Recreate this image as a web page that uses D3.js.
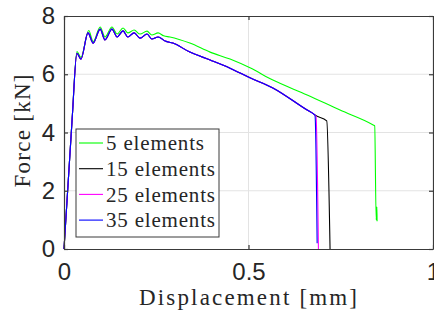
<!DOCTYPE html>
<html>
<head>
<meta charset="utf-8">
<script src="https://cdn.jsdelivr.net/npm/d3@7"></script>
<style>
  body { margin: 0; background: white; }
  .serif { font-family: "Liberation Serif", "Times New Roman", serif; }
  .sans { font-family: "Liberation Sans", Arial, sans-serif; }
</style>
</head>
<body>
<div id="canvas"></div>
<script>
// Data (displacement in mm, force in kN)
var xTicks = [0, 0.5, 1];
var yTicks = [0, 2, 4, 6, 8];
var seriesNames = ["5 elements", "15 elements", "25 elements", "35 elements"];
var seriesColors = ["#00ff00", "#000000", "#ff00ff", "#0000ff"];

// shared part of the 15 / 25 / 35 element curves
var commonDisp = [0, 0.022, 0.035, 0.046, 0.065, 0.079, 0.098, 0.111, 0.130, 0.144, 0.160, 0.173, 0.190, 0.206, 0.225, 0.238, 0.255, 0.274, 0.295, 0.341, 0.396, 0.45, 0.504, 0.566, 0.659, 0.676, 0.68];
var commonForce = [0, 4.45, 6.72, 6.52, 7.42, 7.07, 7.55, 7.18, 7.55, 7.28, 7.49, 7.28, 7.42, 7.24, 7.38, 7.21, 7.28, 7.14, 7.07, 6.76, 6.49, 6.21, 5.88, 5.53, 4.77, 4.64, 4.60];

var disp5 = [0, 0.022, 0.035, 0.046, 0.067, 0.079, 0.098, 0.111, 0.130, 0.144, 0.160, 0.173, 0.190, 0.206, 0.225, 0.238, 0.255, 0.270, 0.287, 0.341, 0.396, 0.45, 0.504, 0.566, 0.659, 0.748, 0.838, 0.842, 0.846, 0.848, 0.8485];
var force5 = [0, 4.45, 6.78, 6.58, 7.50, 7.12, 7.62, 7.28, 7.62, 7.38, 7.59, 7.42, 7.52, 7.38, 7.48, 7.35, 7.42, 7.32, 7.28, 7.07, 6.76, 6.52, 6.22, 5.80, 5.29, 4.77, 4.26, 4.23, 1.00, 1.45, 0.95];

var tailDisp15 = [0.712, 0.721];
var tailForce15 = [4.40, 0.0];
var tailDisp25 = [0.683, 0.6895];
var tailForce25 = [4.55, 0.0];
var tailDisp35 = [0.681, 0.686];
var tailForce35 = [4.45, 0.2];

// Dimensions
var w = 434, h = 321;
var margin = {top: 16, right: 1, bottom: 72, left: 64};
var innerWidth = w - margin.left - margin.right;
var innerHeight = h - margin.top - margin.bottom;

var svg = d3.select("#canvas")
    .append("svg")
    .attr("width", w)
    .attr("height", h)
    .style("background-color", "white");

let x_scale = d3.scaleLinear().domain([0, 1]).range([margin.left, margin.left + innerWidth]);
let y_scale = d3.scaleLinear().domain([0, 8]).range([margin.top + innerHeight, margin.top]);

function toPoints(xs, ys) {
    return xs.map((d, i) => [d, ys[i]]);
}

var series = [
    toPoints(disp5, force5),
    toPoints(commonDisp.concat(tailDisp15), commonForce.concat(tailForce15)),
    toPoints(commonDisp.concat(tailDisp25), commonForce.concat(tailForce25)),
    toPoints(commonDisp.concat(tailDisp35), commonForce.concat(tailForce35))
];

// grid
svg.append("g")
    .selectAll("line")
    .data(xTicks.slice(1, -1))
    .join("line")
    .attr("x1", d => x_scale(d)).attr("x2", d => x_scale(d))
    .attr("y1", margin.top).attr("y2", margin.top + innerHeight)
    .attr("stroke", "#e3e3e3").attr("stroke-width", 1);
svg.append("g")
    .selectAll("line")
    .data(yTicks.slice(1, -1))
    .join("line")
    .attr("x1", margin.left).attr("x2", margin.left + innerWidth)
    .attr("y1", d => y_scale(d)).attr("y2", d => y_scale(d))
    .attr("stroke", "#e3e3e3").attr("stroke-width", 1);

// curves
var line = d3.line()
    .x(d => x_scale(d[0]))
    .y(d => y_scale(d[1]))
    .curve(d3.curveMonotoneX);
svg.append("g")
    .selectAll("path")
    .data(series)
    .join("path")
    .attr("d", line)
    .attr("fill", "none")
    .attr("stroke", (d, i) => seriesColors[i])
    .attr("stroke-width", 1.1)
    .attr("stroke-linejoin", "round");

// axes (MATLAB style box, inward ticks)
var axisColor = "#3a3a3a";
var xAxis = svg.append("g")
    .attr("transform", `translate(0,${margin.top + innerHeight})`)
    .call(d3.axisBottom(x_scale).tickValues(xTicks).tickSizeInner(-4).tickSizeOuter(0).tickPadding(14).tickFormat(d3.format("")));
var yAxis = svg.append("g")
    .attr("transform", `translate(${margin.left},0)`)
    .call(d3.axisLeft(y_scale).tickValues(yTicks).tickSizeInner(-4).tickSizeOuter(0).tickPadding(9));
svg.append("g")
    .attr("transform", `translate(0,${margin.top})`)
    .call(d3.axisTop(x_scale).tickValues(xTicks).tickSizeInner(-4).tickSizeOuter(0).tickFormat(""));
svg.append("g")
    .attr("transform", `translate(${margin.left + innerWidth},0)`)
    .call(d3.axisRight(y_scale).tickValues(yTicks).tickSizeInner(-4).tickSizeOuter(0).tickFormat(""));

svg.selectAll(".domain, .tick line").attr("stroke", axisColor).attr("stroke-width", 1.2);
svg.selectAll(".tick text")
    .attr("class", "sans")
    .attr("fill", "#262626")
    .attr("font-family", null)
    .attr("font-size", 24);
xAxis.selectAll(".tick text").attr("dy", "0.71em");

// axis titles
svg.append("text")
    .attr("class", "serif")
    .attr("x", 248)
    .attr("y", 305)
    .attr("text-anchor", "middle")
    .attr("font-size", 23)
    .attr("textLength", 218)
    .attr("lengthAdjust", "spacing")
    .attr("fill", "#262626")
    .text("Displacement [mm]");

svg.append("text")
    .attr("class", "serif")
    .attr("transform", "translate(30,131) rotate(-90)")
    .attr("text-anchor", "middle")
    .attr("font-size", 23)
    .attr("textLength", 113)
    .attr("lengthAdjust", "spacing")
    .attr("fill", "#262626")
    .text("Force [kN]");

// legend
var legend = svg.append("g");
legend.append("rect")
    .attr("x", 76).attr("y", 129)
    .attr("width", 143).attr("height", 108)
    .attr("fill", "white")
    .attr("stroke", axisColor).attr("stroke-width", 1);

var rows = legend.selectAll("g")
    .data(seriesNames)
    .join("g")
    .attr("transform", (d, i) => `translate(0,${143 + i * 25.7})`);
rows.append("line")
    .attr("x1", 79).attr("x2", 103)
    .attr("stroke", (d, i) => seriesColors[i])
    .attr("stroke-width", 1.1);
rows.append("text")
    .attr("class", "serif")
    .attr("x", 106)
    .attr("dy", "0.35em")
    .attr("font-size", 21)
    .attr("textLength", (d, i) => i === 0 ? 98 : 109)
    .attr("lengthAdjust", "spacing")
    .attr("fill", "#262626")
    .text(d => d);
</script>
</body>
</html>
